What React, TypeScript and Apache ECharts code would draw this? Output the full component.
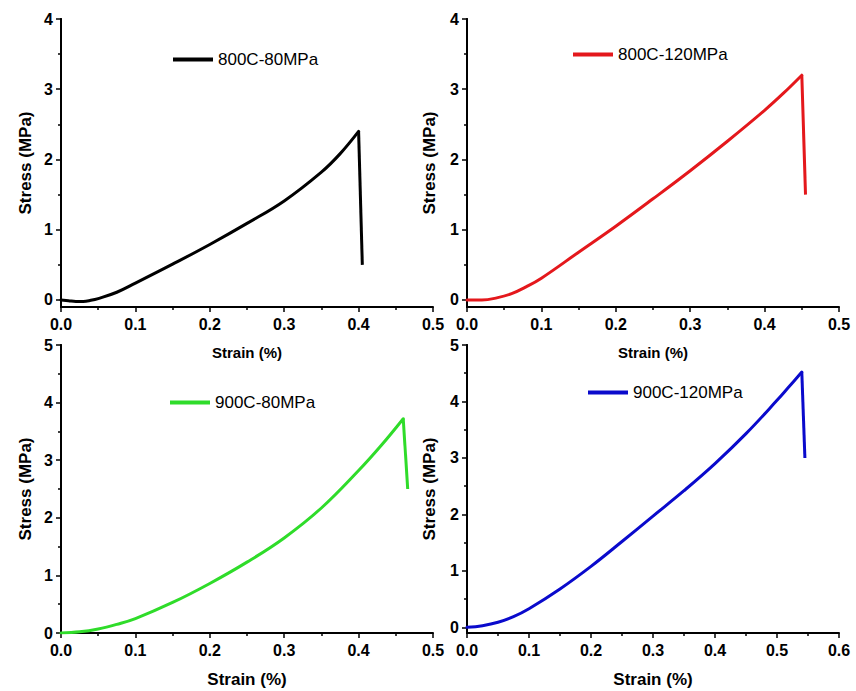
import React, { useEffect, useRef } from "react";
import * as echarts from "echarts";

// ---- Data ----
const seriesNames = ["800C-80MPa", "800C-120MPa", "900C-80MPa", "900C-120MPa"];
const seriesColors = ["#000000", "#e4181c", "#2fdc2a", "#0a0acc"];

const strain800_80 = [0, 0.01, 0.02, 0.03, 0.04, 0.05, 0.075, 0.1, 0.15, 0.2, 0.25, 0.3, 0.35, 0.375, 0.4, 0.405];
const stress800_80 = [0, -0.01, -0.02, -0.02, -0.005, 0.02, 0.11, 0.24, 0.51, 0.79, 1.09, 1.41, 1.82, 2.08, 2.4, 0.5];

const strain800_120 = [0, 0.02, 0.04, 0.06, 0.08, 0.1, 0.15, 0.2, 0.25, 0.3, 0.35, 0.4, 0.425, 0.45, 0.455];
const stress800_120 = [0, 0, 0.03, 0.09, 0.19, 0.31, 0.68, 1.05, 1.44, 1.84, 2.26, 2.7, 2.94, 3.2, 1.5];

const strain900_80 = [0, 0.025, 0.05, 0.075, 0.1, 0.15, 0.2, 0.25, 0.3, 0.35, 0.4, 0.43, 0.46, 0.466];
const stress900_80 = [0, 0.02, 0.07, 0.15, 0.25, 0.53, 0.86, 1.23, 1.65, 2.17, 2.82, 3.25, 3.72, 2.5];

const strain900_120 = [0, 0.025, 0.05, 0.075, 0.1, 0.15, 0.2, 0.25, 0.3, 0.35, 0.4, 0.45, 0.5, 0.52, 0.54, 0.545];
const stress900_120 = [0, 0.03, 0.09, 0.19, 0.33, 0.68, 1.08, 1.52, 1.97, 2.42, 2.9, 3.43, 4.02, 4.27, 4.52, 3.0];

const strains = [strain800_80, strain800_120, strain900_80, strain900_120];
const stresses = [stress800_80, stress800_120, stress900_80, stress900_120];

const xMaxes = [0.5, 0.5, 0.5, 0.6];
const yMins = [-0.1, -0.1, 0, -0.1];
const yMaxes = [4, 4, 5, 5];
const yMajorTop = [0, 1, 2, 3, 4];
const yMajorBottom = [0, 1, 2, 3, 4, 5];
const yMinorTop = [0.5, 1.5, 2.5, 3.5];
const yMinorBottom = [0.5, 1.5, 2.5, 3.5, 4.5];

const xTitle = "Strain (%)";
const yTitle = "Stress (MPa)";

const FONT = "'Liberation Sans', Arial, Helvetica, sans-serif";

export default function App() {
  const ref = useRef<HTMLDivElement>(null);

  useEffect(() => {
    if (!ref.current) return;
    const chart = echarts.init(ref.current, undefined, { renderer: "svg" });

    const gridPos = [
      { left: 61, top: 19 },
      { left: 467, top: 19 },
      { left: 61, top: 345 },
      { left: 467, top: 345 },
    ];
    const legendPos = [
      { left: 173, top: 51 },
      { left: 573, top: 46 },
      { left: 170, top: 394 },
      { left: 588, top: 384 },
    ];

    const grids = gridPos.map((p) => ({ left: p.left, top: p.top, width: 372, height: 288 }));

    const xAxes = grids.map((_, i) => ({
      type: "value",
      gridIndex: i,
      min: 0,
      max: xMaxes[i],
      interval: 0.1,
      name: xTitle,
      nameLocation: "middle",
      nameGap: 38,
      nameTextStyle: { fontFamily: FONT, fontWeight: "bold", fontSize: i < 2 ? 15 : 17, color: "#000" },
      axisLine: { show: true, onZero: false, lineStyle: { color: "#000", width: 2 } },
      axisTick: { show: true, length: 5, lineStyle: { color: "#000", width: 1.5 } },
      minorTick: { show: true, splitNumber: 2, length: 3, lineStyle: { color: "#000", width: 1.5 } },
      splitLine: { show: false },
      minorSplitLine: { show: false },
      axisLabel: {
        margin: 9,
        fontFamily: FONT,
        fontWeight: "bold",
        fontSize: 16,
        color: "#000",
        formatter: (v: number) => v.toFixed(1),
      },
    }));

    const yAxes: any[] = [];
    grids.forEach((_, i) => {
      const major = i < 2 ? yMajorTop : yMajorBottom;
      const minor = i < 2 ? yMinorTop : yMinorBottom;
      yAxes.push({
        type: "value",
        gridIndex: i,
        min: yMins[i],
        max: yMaxes[i],
        position: "left",
        name: yTitle,
        nameLocation: "middle",
        nameGap: i % 2 === 0 ? 27 : 29,
        nameTextStyle: { fontFamily: FONT, fontWeight: "bold", fontSize: 17, color: "#000" },
        axisLine: { show: true, onZero: false, lineStyle: { color: "#000", width: 2 } },
        axisTick: { show: true, length: 5, customValues: major, lineStyle: { color: "#000", width: 1.5 } },
        splitLine: { show: false },
        axisLabel: {
          margin: 8,
          customValues: major,
          fontFamily: FONT,
          fontWeight: "bold",
          fontSize: 16,
          color: "#000",
          formatter: (v: number) => String(Math.round(v)),
        },
      });
      yAxes.push({
        type: "value",
        gridIndex: i,
        min: yMins[i],
        max: yMaxes[i],
        position: "left",
        offset: 0,
        axisLine: { show: true, onZero: false, lineStyle: { color: "#000", width: 2 } },
        axisTick: { show: true, length: 3, customValues: minor, lineStyle: { color: "#000", width: 1.5 } },
        axisLabel: { show: false },
        splitLine: { show: false },
      });
    });

    const series: any[] = [];
    seriesNames.forEach((name, i) => {
      const pts = strains[i].map((x, k) => [x, stresses[i][k]]);
      const n = pts.length;
      // loading branch (smooth) up to the peak
      series.push({
        name,
        type: "line",
        xAxisIndex: i,
        yAxisIndex: i * 2,
        showSymbol: false,
        symbol: "none",
        smooth: 0.4,
        lineStyle: { color: seriesColors[i], width: 3, cap: "round", join: "round" },
        itemStyle: { color: seriesColors[i] },
        data: pts.slice(0, n - 1),
      });
      // fracture drop (straight) from the peak
      series.push({
        name,
        type: "line",
        xAxisIndex: i,
        yAxisIndex: i * 2,
        showSymbol: false,
        symbol: "none",
        smooth: false,
        lineStyle: { color: seriesColors[i], width: 3, join: "round" },
        itemStyle: { color: seriesColors[i] },
        data: pts.slice(n - 2),
      });
    });

    const legends = seriesNames.map((name, i) => ({
      data: [name],
      left: legendPos[i].left,
      top: legendPos[i].top,
      padding: 0,
      icon: "rect",
      itemWidth: 40,
      itemHeight: 4,
      selectedMode: false,
      textStyle: { fontFamily: FONT, fontSize: 17, color: "#000" },
    }));

    chart.setOption({
      animation: false,
      backgroundColor: "#ffffff",
      grid: grids,
      xAxis: xAxes,
      yAxis: yAxes,
      legend: legends,
      series,
    });

    return () => chart.dispose();
  }, []);

  return (
    <div
      ref={ref}
      style={{ position: "absolute", left: 0, top: 0, width: 856, height: 691, background: "#fff" }}
    />
  );
}
